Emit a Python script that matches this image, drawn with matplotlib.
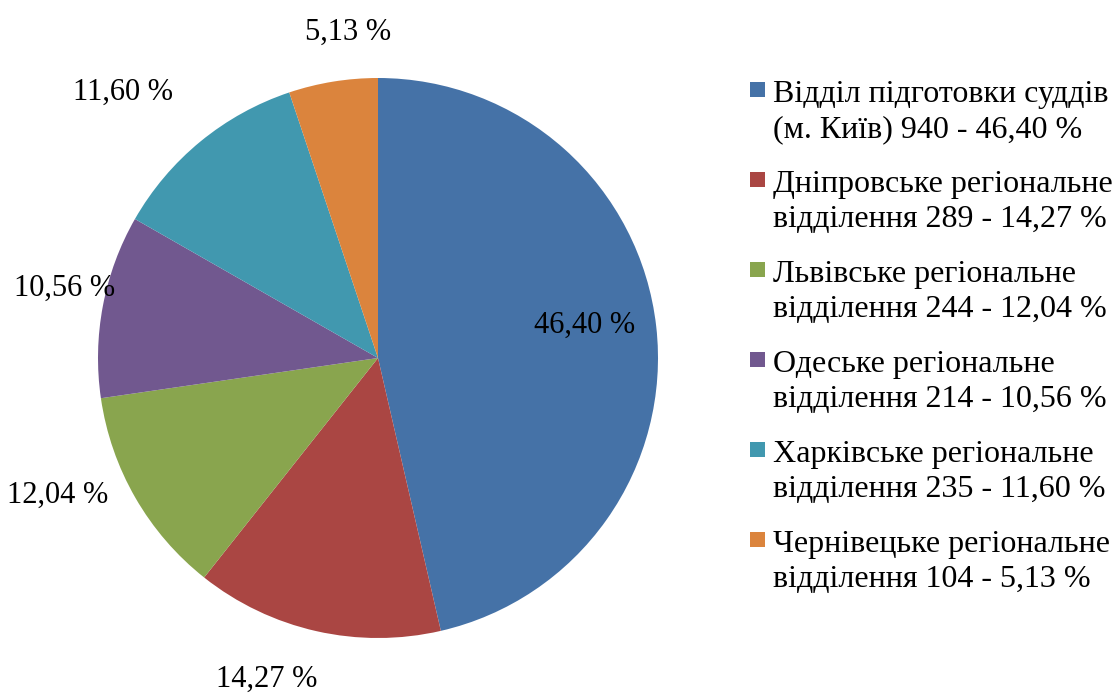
import matplotlib
matplotlib.use("Agg")
import matplotlib.pyplot as plt
from matplotlib.patches import Rectangle

# ---- data ----
names_line1 = ["Відділ підготовки суддів", "Дніпровське регіональне", "Львівське регіональне",
               "Одеське регіональне", "Харківське регіональне", "Чернівецьке регіональне"]
names_line2 = ["(м. Київ)", "відділення", "відділення", "відділення", "відділення", "відділення"]
counts = [940, 289, 244, 214, 235, 104]
percents = ["46,40", "14,27", "12,04", "10,56", "11,60", "5,13"]
colors = ["#4572A7", "#AA4643", "#89A54E", "#71588F", "#4198AF", "#DB843D"]

W, H = 1115, 696
fig = plt.figure(figsize=(W / 100, H / 100), dpi=100)
plt.rcParams['font.family'] = ['Liberation Serif', 'DejaVu Serif']
FS_LABEL = 22
FS_LEG = 23

# pie axes: centre (378,358) px, radius 280 px
cx, cy, r = 378, 358, 280
ax = fig.add_axes([(cx - r) / W, (H - cy - r) / H, 2 * r / W, 2 * r / H])
ax.pie(counts, colors=colors, startangle=90, counterclock=False, radius=1,
       wedgeprops=dict(linewidth=0))
ax.set_xlim(-1, 1)
ax.set_ylim(-1, 1)
ax.set_aspect('equal')
ax.axis('off')

# data label positions (pixel centre x, baseline y)
label_px = [(585, 333), (267, 687), (58, 503), (65, 296), (123, 100), (348, 40)]
for p, (lx, ly) in zip(percents, label_px):
    fig.text(lx / W, 1 - ly / H, f"{p} %", ha='center', va='baseline', fontsize=FS_LABEL)

# legend (manual)
base0 = 101.7
step = 90
lh = 35.5
for i in range(len(counts)):
    b = base0 + i * step
    fig.patches.append(Rectangle((750 / W, 1 - (b - 5) / H), 15 / W, 15 / H,
                                 transform=fig.transFigure, facecolor=colors[i], edgecolor='none'))
    fig.text(773 / W, 1 - b / H, names_line1[i], ha='left', va='baseline', fontsize=FS_LEG)
    fig.text(773 / W, 1 - (b + lh) / H, f"{names_line2[i]} {counts[i]} - {percents[i]} %",
             ha='left', va='baseline', fontsize=FS_LEG)

fig.savefig("out.png", dpi=100)
